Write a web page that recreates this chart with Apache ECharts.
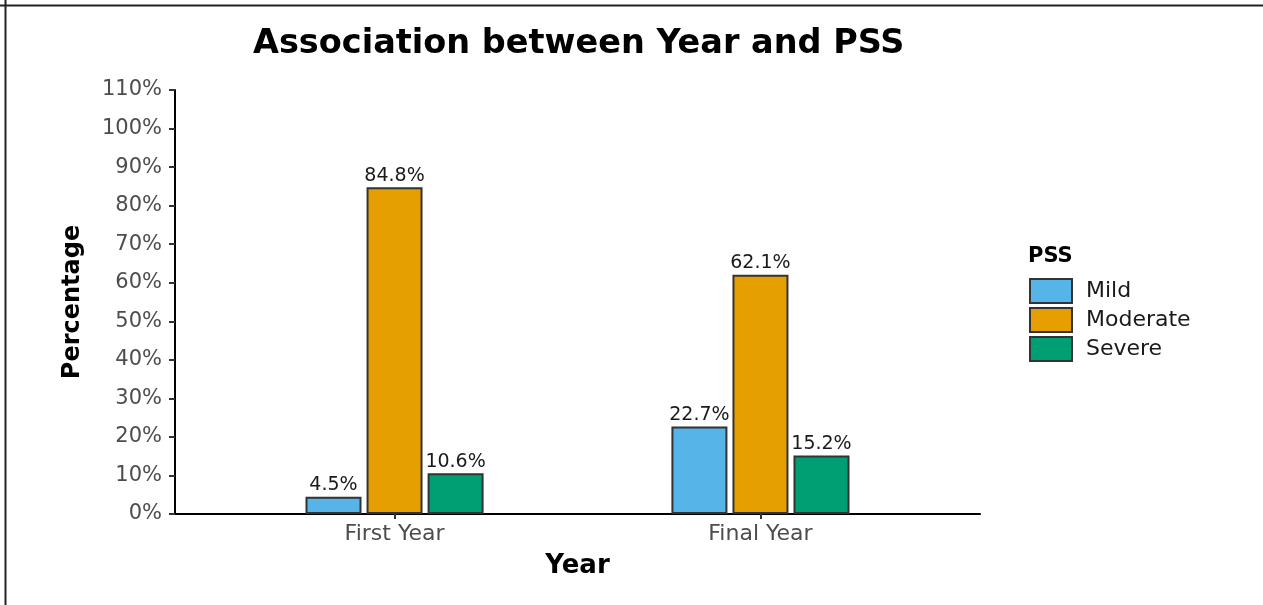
<!DOCTYPE html>
<html>
<head>
<meta charset="utf-8">
<script src="https://cdn.jsdelivr.net/npm/echarts@6/dist/echarts.min.js"></script>
<style>
html,body{margin:0;padding:0;background:#fff;}
#chart{width:1263px;height:605px;}
</style>
</head>
<body>
<div id="chart"></div>
<script>
var categories = ['First Year', 'Final Year'];
var seriesNames = ['Mild', 'Moderate', 'Severe'];
var mildValues = [4.5, 22.7];
var moderateValues = [84.8, 62.1];
var severeValues = [10.6, 15.2];
var yTicks = [0, 10, 20, 30, 40, 50, 60, 70, 80, 90, 100, 110];
var colors = ['#56B4E9', '#E69F00', '#009E73'];

var FONT = 'DejaVu Sans';
var chart = echarts.init(document.getElementById('chart'), null, {renderer: 'canvas'});

function mk(name, vals, color) {
  return {
    name: name,
    type: 'bar',
    barWidth: 56,
    barGap: '9%',
    data: vals.map(function (v, i) { return [i + 1, v]; }),
    itemStyle: {color: color, borderColor: '#333333', borderWidth: 2},
    label: {
      show: true, position: 'top', distance: 2,
      fontFamily: FONT, fontSize: 19, color: '#1a1a1a',
      formatter: function (p) { return p.value[1].toFixed(1) + '%'; }
    }
  };
}

chart.setOption({
  animation: false,
  backgroundColor: '#ffffff',
  textStyle: {fontFamily: FONT},
  grid: {left: 175, right: 283, top: 90, bottom: 91},
  xAxis: {
    type: 'value', min: 0.4, max: 2.6,
    name: 'Year', nameLocation: 'middle', nameGap: 39,
    nameTextStyle: {fontFamily: FONT, fontSize: 26, fontWeight: 'bold', color: '#000'},
    axisLine: {show: true, lineStyle: {color: '#000', width: 2}},
    axisTick: {show: true, length: 5, customValues: categories.map(function (c, i) { return i + 1; }), lineStyle: {color: '#333', width: 2}},
    axisLabel: {
      customValues: categories.map(function (c, i) { return i + 1; }),
      formatter: function (v) { return categories[Math.round(v) - 1] || ''; },
      fontFamily: FONT, fontSize: 22, color: '#4d4d4d', margin: 9
    },
    splitLine: {show: false}
  },
  yAxis: {
    type: 'value', min: yTicks[0], max: yTicks[yTicks.length - 1], interval: 10,
    name: 'Percentage', nameLocation: 'middle', nameGap: 90,
    nameTextStyle: {fontFamily: FONT, fontSize: 24, fontWeight: 'bold', color: '#000'},
    axisLine: {show: true, lineStyle: {color: '#000', width: 2}},
    axisTick: {show: true, length: 6, lineStyle: {color: '#333', width: 2}},
    axisLabel: {formatter: '{value}%', fontFamily: FONT, fontSize: 21, color: '#4d4d4d', margin: 13},
    splitLine: {show: false}
  },
  legend: {
    orient: 'vertical', left: 1029, top: 278, padding: 0,
    icon: 'rect',
    itemWidth: 42, itemHeight: 24, itemGap: 3,
    data: seriesNames,
    itemStyle: {borderColor: '#333333', borderWidth: 2},
    textStyle: {fontFamily: FONT, fontSize: 22, lineHeight: 24, color: '#1a1a1a', padding: [0, 0, 0, 9]}
  },
  graphic: [
    {type: 'text', left: 253, top: 27, style: {text: 'Association between Year and PSS', font: 'bold 33.5px "DejaVu Sans"', fill: '#000'}},
    {type: 'text', left: 1028, top: 246, style: {text: 'PSS', font: 'bold 21px "DejaVu Sans"', fill: '#000'}},
    {type: 'line', shape: {x1: 0, y1: 5.5, x2: 1263, y2: 5.5}, style: {stroke: '#222', lineWidth: 2}},
    {type: 'line', shape: {x1: 5.5, y1: 0, x2: 5.5, y2: 605}, style: {stroke: '#222', lineWidth: 2}}
  ],
  series: [
    mk(seriesNames[0], mildValues, colors[0]),
    mk(seriesNames[1], moderateValues, colors[1]),
    mk(seriesNames[2], severeValues, colors[2])
  ]
});
</script>
</body>
</html>
